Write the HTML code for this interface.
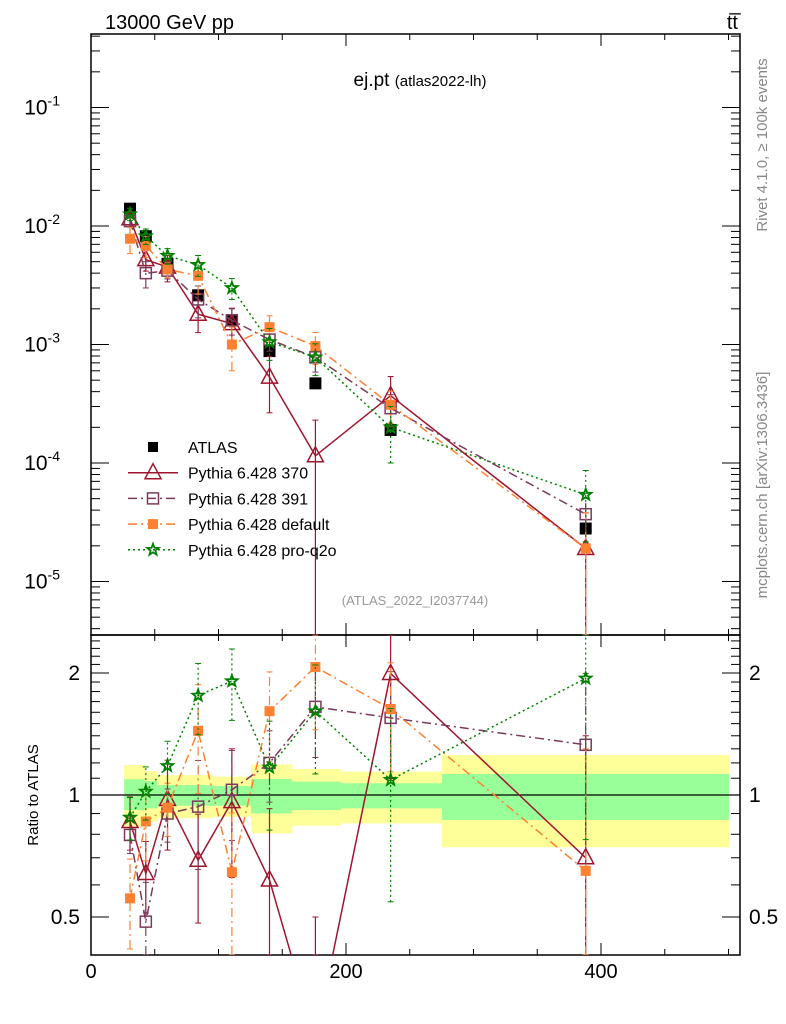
<!DOCTYPE html>
<html><head><meta charset="utf-8"><style>
html,body{margin:0;padding:0;background:#fff;overflow:hidden;width:786px;height:1024px;}
svg{display:block;}
svg text{font-family:"Liberation Sans",sans-serif;}
</style></head><body>
<svg id="chart" width="786" height="1024" viewBox="0 0 786 1024" xmlns="http://www.w3.org/2000/svg">
<g id="bands"></g>
<g id="axes"></g>
<g id="series"></g>
<text x="105" y="29" font-size="20">13000 GeV pp</text>
<text x="738" y="29" font-size="20" text-anchor="end">tt&#773;</text>
<text x="420" y="86" font-size="19" text-anchor="middle">ej.pt <tspan font-size="15">(atlas2022-lh)</tspan></text>
<text x="415" y="605" font-size="13" fill="#999" text-anchor="middle">(ATLAS_2022_I2037744)</text>
<text transform="translate(767,145) rotate(-90)" font-size="15" fill="#888" text-anchor="middle">Rivet 4.1.0, ≥ 100k events</text>
<text transform="translate(767,485) rotate(-90)" font-size="15" fill="#888" text-anchor="middle">mcplots.cern.ch [arXiv:1306.3436]</text>
<text transform="translate(38,795) rotate(-90)" font-size="15" text-anchor="middle">Ratio to ATLAS</text>
<g id="legend"></g>
</svg>
<script>
const xCenters=[30.6,43,60,84,110.5,140,176,235,388];
const dataVals=[0.014,0.0082,0.0048,0.0026,0.0016,0.00088,0.00047,0.00019,0.000028];
const dataErr=[0.05,0.05,0.05,0.06,0.08,0.1,0.1,0.15,0.2];
const v370=[0.0115,0.0052,0.0045,0.0018,0.0015,0.00053,0.000115,0.00037,0.000019];
const v391=[0.011,0.004,0.0042,0.0024,0.0016,0.0011,0.00078,0.00029,0.000037];
const vDef=[0.0078,0.0068,0.0043,0.0038,0.001,0.0014,0.00097,0.00031,0.000019];
const vQ2o=[0.0126,0.0082,0.0056,0.0047,0.003,0.00105,0.00078,0.0002,0.000054];
const r370=[0.86,0.64,0.975,0.69,0.963,0.617,0.25,1.995,0.70];
const r391=[0.797,0.487,0.90,0.936,1.03,1.20,1.65,1.55,1.33];
const rDef=[0.556,0.86,0.93,1.44,0.645,1.61,2.07,1.63,0.65];
const rQ2o=[0.88,1.02,1.18,1.76,1.91,1.17,1.61,1.09,1.94];
const e370=[0.15,0.2,0.25,0.3,0.35,0.5,1.0,0.45,1.0];
const e391=[0.1,0.25,0.15,0.3,0.25,0.2,0.25,0.3,0.5];
const eDef=[0.25,0.2,0.15,0.3,0.4,0.25,0.3,0.3,1.0];
const eQ2o=[0.12,0.15,0.15,0.2,0.2,0.3,0.3,0.5,0.6];
const binEdges=[26,42,52,72,96,125.5,157.6,196,275.3,500];
const greenUp=[1.093,1.083,1.058,1.058,1.053,1.095,1.079,1.069,1.127];
const greenDn=[0.918,0.927,0.941,0.941,0.941,0.901,0.918,0.927,0.868];
const yellowUp=[1.186,1.146,1.12,1.12,1.11,1.19,1.159,1.142,1.255];
const yellowDn=[0.835,0.859,0.876,0.876,0.884,0.804,0.84,0.851,0.743];
const xTicks=[0,200,400];

const NS="http://www.w3.org/2000/svg";
const L=91,R=740,T=34,M=635,B=955;
const X=v=>L+(v-0)*(601-91)/400;
const Y=v=>226-(Math.log10(v)+2)*118.5;
const RY=v=>795-Math.log2(v)*122;
const cl=(y,a,b)=>Math.max(a,Math.min(b,y));
function mk(tag,attrs,parent){const e=document.createElementNS(NS,tag);for(const k in attrs)e.setAttribute(k,attrs[k]);parent.appendChild(e);return e;}
const axes=document.getElementById('axes'),ser=document.getElementById('series'),bands=document.getElementById('bands'),leg=document.getElementById('legend');

for(let i=0;i<greenUp.length;i++){
 const x0=X(binEdges[i]),x1=X(binEdges[i+1]);
 const y=mk('rect',{x:x0,y:RY(yellowUp[i]),width:x1-x0+0.5,height:RY(yellowDn[i])-RY(yellowUp[i]),fill:'#ffff99'},bands);
 
 
 const g=mk('rect',{x:x0,y:RY(greenUp[i]),width:x1-x0+0.5,height:RY(greenDn[i])-RY(greenUp[i]),fill:'#99ff99'},bands);
 
 
}
mk('line',{x1:L,x2:R,y1:RY(1),y2:RY(1),stroke:'#000','stroke-width':1.2},axes);
mk('rect',{x:L,y:T,width:R-L,height:M-T,fill:'none',stroke:'#000','stroke-width':1.5},axes);
mk('rect',{x:L,y:M,width:R-L,height:B-M,fill:'none',stroke:'#000','stroke-width':1.5},axes);
for(let v=0;v<=500;v+=50){const len=(v%200===0)?12:6;const x=X(v);
 [[T,T+len],[M,M-len],[M,M+len],[B,B-len]].forEach(p=>mk('line',{x1:x,x2:x,y1:p[0],y2:p[1],stroke:'#000'},axes));}
xTicks.forEach(v=>{const t=mk('text',{x:X(v),y:978,'font-size':20,'text-anchor':'middle'},axes);t.textContent=v;
 
 });
for(let d=-6;d<=0;d++)for(let m=1;m<10;m++){const v=m*Math.pow(10,d);const y=Y(v);if(y<T||y>M)continue;const len=m===1?18:9;
 mk('line',{x1:L,x2:L+len,y1:y,y2:y,stroke:'#000'},axes);mk('line',{x1:R,x2:R-len,y1:y,y2:y,stroke:'#000'},axes);}
[-1,-2,-3,-4,-5].forEach(d=>{const t=mk('text',{x:60,y:Y(Math.pow(10,d))+7,'font-size':21,'text-anchor':'end'},axes);
 t.innerHTML='10<tspan dy="-9" font-size="14">'+d+'</tspan>';
 
 });
[0.4,0.5,0.6,0.7,0.8,0.9,1,1.1,1.2,1.3,1.4,1.5,1.6,1.7,1.8,1.9,2,2.1,2.2,2.3,2.4].forEach(v=>{const y=RY(v);if(y<M||y>B)return;
 const len=(v===0.5||v===1||v===2)?18:9;
 mk('line',{x1:L,x2:L+len,y1:y,y2:y,stroke:'#000'},axes);mk('line',{x1:R,x2:R-len,y1:y,y2:y,stroke:'#000'},axes);});
[[2,'2'],[1,'1'],[0.5,'0.5']].forEach(p=>{
 const t=mk('text',{x:80,y:RY(p[0])+7,'font-size':21,'text-anchor':'end'},axes);t.textContent=p[1];
 
 
 const t2=mk('text',{x:749,y:RY(p[0])+7,'font-size':21},axes);t2.textContent=p[1];
 
 });

function marker(kind,x,y,col,g){
 if(kind==='tri')mk('path',{d:`M${x} ${y-9}L${x+8} ${y+6}L${x-8} ${y+6}Z`,fill:'none',stroke:col,'stroke-width':1.5},g);
 else if(kind==='osq')mk('rect',{x:x-5.5,y:y-5.5,width:11,height:11,fill:'none',stroke:col,'stroke-width':1.5},g);
 else if(kind==='fsq')mk('rect',{x:x-5,y:y-5,width:10,height:10,fill:col},g);
 else if(kind==='bsq')mk('rect',{x:x-6,y:y-6,width:12,height:12,fill:col},g);
 else if(kind==='star'){let d='';for(let k=0;k<10;k++){const r=k%2?2.5:6;const a=-Math.PI/2+k*Math.PI/5;d+=(k?'L':'M')+(x+r*Math.cos(a))+' '+(y+r*Math.sin(a));}
  mk('path',{d:d+'Z',fill:'none',stroke:col,'stroke-width':1.8},g);}
}
const defs=mk('defs',{},document.getElementById('chart'));
const c1=mk('clipPath',{id:'cm'},defs);mk('rect',{x:L,y:T,width:R-L,height:M-T},c1);
const c2=mk('clipPath',{id:'cr'},defs);mk('rect',{x:L,y:M,width:R-L,height:B-M},c2);
const S=[
 {name:'Pythia 6.428 370',id:'370',v:v370,r:r370,e:e370,col:'#a0142d',dash:'',m:'tri'},
 {name:'Pythia 6.428 391',id:'391',v:v391,r:r391,e:e391,col:'#7a3a5c',dash:'9,4,2,4',m:'osq'},
 {name:'Pythia 6.428 default',id:'default',v:vDef,r:rDef,e:eDef,col:'#ff8030',dash:'9,4,2,4',m:'fsq'},
 {name:'Pythia 6.428 pro-q2o',id:'pro-q2o',v:vQ2o,r:rQ2o,e:eQ2o,col:'#008000',dash:'2,3',m:'star'}];
S.forEach(s=>{
 ['main','ratio'].forEach(panel=>{
  const g=mk('g',{'clip-path':panel==='main'?'url(#cm)':'url(#cr)'},ser);
  
  
  const vals=panel==='main'?s.v:s.r;const f=panel==='main'?Y:RY;
  const lo_=panel==='main'?T:M, hi_=panel==='main'?M:B;
  // line path: clip y range to a modest overshoot so geometry stays on-page
  let d='';vals.forEach((v,i)=>{d+=(i?'L':'M')+X(xCenters[i])+' '+f(v);});
  mk('path',{d:d,fill:'none',stroke:s.col,'stroke-width':1.5,'stroke-dasharray':s.dash},g);
  vals.forEach((v,i)=>{const x=X(xCenters[i]);const lo=Math.max(v*(1-s.e[i]),v*0.01);const hi=v*(1+s.e[i]);
   const yl=cl(f(lo),lo_,hi_), yh=cl(f(hi),lo_,hi_);
   mk('line',{x1:x,x2:x,y1:yl,y2:yh,stroke:s.col,'stroke-width':1.2,'stroke-dasharray':s.dash},g);
   mk('line',{x1:x-3,x2:x+3,y1:yh,y2:yh,stroke:s.col},g);
   mk('line',{x1:x-3,x2:x+3,y1:yl,y2:yl,stroke:s.col},g);
   const ym=f(v); if(ym>=lo_-10&&ym<=hi_+10) marker(s.m,x,ym,s.col,g);});
 });
});
const dg=mk('g',{'clip-path':'url(#cm)'},ser);


dataVals.forEach((v,i)=>marker('bsq',X(xCenters[i]),Y(v),'#000',dg));
dg.parentNode.insertBefore(dg,ser.firstChild);

const rows=[{name:'ATLAS',m:'bsq',col:'#000',line:false}].concat(S.map(s=>({name:s.name,m:s.m,col:s.col,dash:s.dash,line:true})));
rows.forEach((r,i)=>{const y=447+i*25.7;
 const g=mk('g',{},leg);
 
 
 if(r.line)mk('line',{x1:128,x2:178,y1:y,y2:y,stroke:r.col,'stroke-width':1.5,'stroke-dasharray':r.dash},g);
 marker(r.m==='bsq'?'fsq':r.m,153,y,r.col,g);
 const t=mk('text',{x:188,y:y+6,'font-size':16},g);t.textContent=r.name;});
</script>
</body></html>
